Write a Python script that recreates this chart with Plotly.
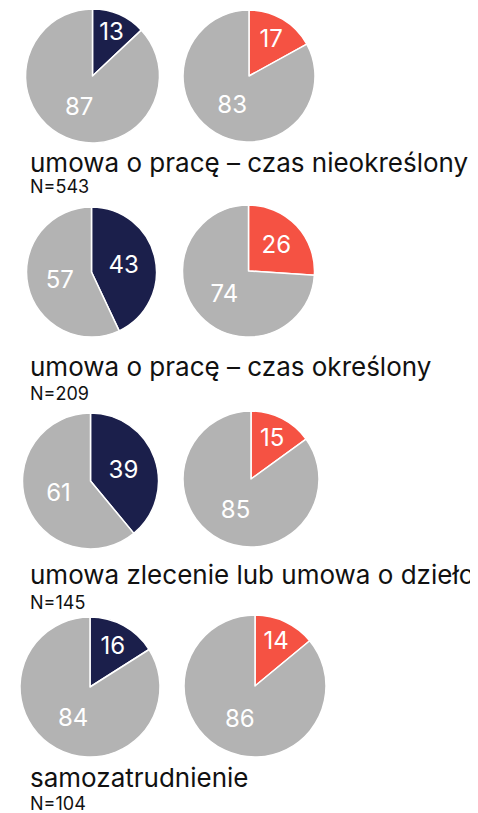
import plotly.graph_objects as go

categories = [
    "umowa o pracę – czas nieokreślony",
    "umowa o pracę – czas określony",
    "umowa zlecenie lub umowa o dzieło",
    "samozatrudnienie",
]
n_labels = ["N=543", "N=209", "N=145", "N=104"]
left_values = [13, 43, 39, 16]
right_values = [17, 26, 15, 14]

NAVY = "#1b1f4b"
RED = "#f55243"
GRAY = "#b3b3b3"
FONT = "Inter"

# page body has an 8px margin: figure is offset by OFF px
OFF = 8
W, H = 478 - OFF, 813 - OFF
# layout: (cx, cy, r) for left and right pie in each row (window pixels)
left_geom = [(92.5, 76, 67), (91.5, 272, 65), (90.5, 481, 68), (90, 687, 70)]
right_geom = [(249, 76, 66), (248.5, 271, 66), (251, 479, 68), (255, 686, 71)]
label_y = [162, 366, 574, 777]
n_y = [187, 393, 602, 803]
label_x = 28


def dom(g):
    cx, cy, r = g
    cx -= OFF
    cy -= OFF
    return dict(x=[(cx - r) / W, (cx + r) / W], y=[1 - (cy + r) / H, 1 - (cy - r) / H])


fig = go.Figure()
for i in range(len(categories)):
    for vals, geom, col in ((left_values, left_geom, NAVY), (right_values, right_geom, RED)):
        v = vals[i]
        fig.add_trace(go.Pie(
            values=[v, 100 - v],
            labels=["a", "b"],
            marker=dict(colors=[col, GRAY], line=dict(color="white", width=1.5)),
            sort=False,
            direction="clockwise",
            rotation=0,
            textinfo="value",
            textposition="inside",
            insidetextorientation="horizontal",
            textfont=dict(color="white", size=24, family=FONT),
            domain=dom(geom[i]),
            hoverinfo="skip",
            showlegend=False,
        ))
    fig.add_annotation(text=categories[i], x=(label_x - OFF) / W, y=1 - (label_y[i] - OFF) / H,
                       xref="paper", yref="paper",
                       xanchor="left", yanchor="middle", showarrow=False,
                       font=dict(size=26, color="#111111", family=FONT))
    fig.add_annotation(text=n_labels[i], x=(label_x - OFF) / W, y=1 - (n_y[i] - OFF) / H,
                       xref="paper", yref="paper",
                       xanchor="left", yanchor="middle", showarrow=False,
                       font=dict(size=18, color="#111111", family=FONT))

fig.update_layout(
    width=W, height=H,
    margin=dict(l=0, r=0, t=0, b=0),
    paper_bgcolor="white",
    plot_bgcolor="white",
    uniformtext=dict(minsize=24, mode="show"),
)
fig.write_html("out.html")
